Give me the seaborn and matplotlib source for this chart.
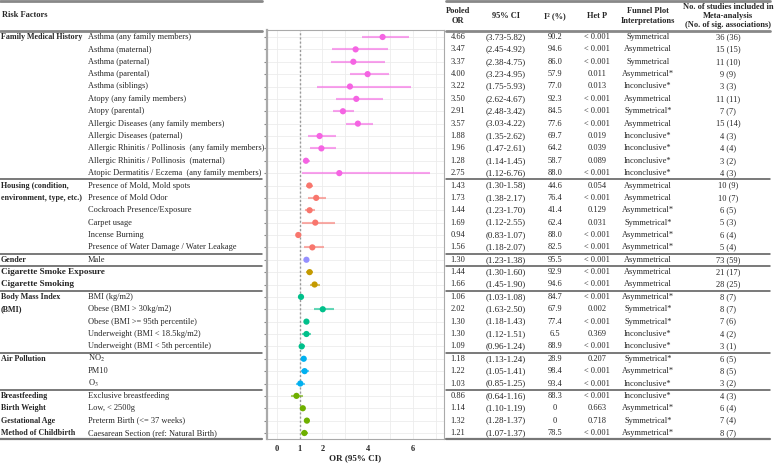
import matplotlib
matplotlib.use("Agg")
import matplotlib.pyplot as plt
import pandas as pd
import seaborn as sns

# ---- data ----
groups = ["Family Medical History"] * 12 + ["Housing"] * 6 + ["Gender"] + ["Cigarette"] * 2 \
    + ["BMI"] * 5 + ["Air Pollution"] * 3 + ["Early life"] * 4
factors = [
    "Asthma (any family members)", "Asthma (maternal)", "Asthma (paternal)", "Asthma (parental)",
    "Asthma (siblings)", "Atopy (any family members)", "Atopy (parental)",
    "Allergic Diseases (any family members)", "Allergic Diseases (paternal)",
    "Allergic Rhinitis / Pollinosis  (any family members)", "Allergic Rhinitis / Pollinosis  (maternal)",
    "Atopic Dermatitis / Eczema  (any family members)",
    "Presence of Mold, Mold spots", "Presence of Mold Odor", "Cockroach Presence/Exposure",
    "Carpet usage", "Incense Burning", "Presence of Water Damage / Water Leakage",
    "Male", "", "",
    "BMI (kg/m2)", "Obese (BMI > 30kg/m2)", "Obese (BMI >= 95th percentile)",
    "Underweight (BMI < 18.5kg/m2)", "Underweight (BMI < 5th percentile)",
    "NO$_2$", "PM10", "O$_3$",
    "Exclusive breastfeeding", "Low, < 2500g", "Preterm Birth (<= 37 weeks)",
    "Caesarean Section (ref: Natural Birth)",
]
or_vals = [4.66, 3.47, 3.37, 4.00, 3.22, 3.50, 2.91, 3.57, 1.88, 1.96, 1.28, 2.75,
           1.43, 1.73, 1.44, 1.69, 0.94, 1.56, 1.30, 1.44, 1.66,
           1.06, 2.02, 1.30, 1.30, 1.09, 1.18, 1.22, 1.03, 0.86, 1.14, 1.32, 1.21]
ci_lo = [3.73, 2.45, 2.38, 3.23, 1.75, 2.62, 2.48, 3.03, 1.35, 1.47, 1.14, 1.12,
         1.30, 1.38, 1.23, 1.12, 0.83, 1.18, 1.23, 1.30, 1.45,
         1.03, 1.63, 1.18, 1.12, 0.96, 1.13, 1.05, 0.85, 0.64, 1.10, 1.28, 1.07]
ci_hi = [5.82, 4.92, 4.75, 4.95, 5.93, 4.67, 3.42, 4.22, 2.62, 2.61, 1.45, 6.76,
         1.58, 2.17, 1.70, 2.55, 1.07, 2.07, 1.38, 1.60, 1.90,
         1.08, 2.50, 1.43, 1.51, 1.24, 1.24, 1.41, 1.25, 1.16, 1.19, 1.37, 1.37]
i2 = ["90.2", "94.6", "86.0", "57.9", "77.0", "92.3", "84.5", "77.6", "69.7", "64.2", "58.7", "88.0",
      "44.6", "76.4", "41.4", "62.4", "88.0", "82.5", "95.5", "92.9", "94.6",
      "84.7", "67.9", "77.4", "6.5", "88.9", "28.9", "98.4", "93.4", "88.3", "0", "0", "78.5"]
het_p = ["< 0.001", "< 0.001", "< 0.001", "0.011", "0.013", "< 0.001", "< 0.001", "< 0.001",
         "0.019", "0.039", "0.089", "< 0.001",
         "0.054", "< 0.001", "0.129", "0.031", "< 0.001", "< 0.001", "< 0.001", "< 0.001", "< 0.001",
         "< 0.001", "0.002", "< 0.001", "0.369", "< 0.001", "0.207", "< 0.001", "< 0.001",
         "< 0.001", "0.663", "0.718", "< 0.001"]
funnel = ["Symmetrical", "Asymmetrical", "Symmetrical", "Asymmetrical*", "Inconclusive*",
          "Asymmetrical", "Symmetrical*", "Asymmetrical", "Inconclusive*", "Inconclusive*",
          "Inconclusive*", "Inconclusive*",
          "Asymmetrical", "Asymmetrical", "Asymmetrical*", "Symmetrical*", "Asymmetrical*",
          "Asymmetrical*", "Asymmetrical", "Asymmetrical", "Asymmetrical",
          "Asymmetrical*", "Symmetrical*", "Symmetrical*", "Inconclusive*", "Inconclusive*",
          "Symmetrical*", "Asymmetrical*", "Inconclusive*",
          "Inconclusive*", "Asymmetrical*", "Symmetrical*", "Asymmetrical*"]
studies = ["36 (36)", "15 (15)", "11 (10)", "9 (9)", "3 (3)", "11 (11)", "7 (7)", "15 (14)",
           "4 (3)", "4 (4)", "3 (2)", "4 (3)",
           "10 (9)", "10 (7)", "6 (5)", "5 (3)", "6 (4)", "5 (4)", "73 (59)", "21 (17)", "28 (25)",
           "8 (7)", "8 (7)", "7 (6)", "4 (2)", "3 (1)", "6 (5)", "8 (5)", "3 (2)",
           "4 (3)", "6 (4)", "7 (4)", "8 (7)"]

cat_labels = [("Family Medical History", 0), ("Housing (condition,", 12),
              ("environment, type, etc.)", 13), ("Gender", 18),
              ("Cigarette Smoke Exposure", 19), ("Cigarette Smoking", 20),
              ("Body Mass Index", 21), ("(BMI)", 22), ("Air Pollution", 26),
              ("Breastfeeding", 29), ("Birth Weight", 30), ("Gestational Age", 31),
              ("Method of Childbirth", 32)]
section_breaks = [12, 18, 19, 21, 26, 29]

palette = {"Family Medical History": "#F564E3", "Housing": "#F8766D", "Gender": "#9590FF",
           "Cigarette": "#C49A00", "BMI": "#00C08B", "Air Pollution": "#00B0F0",
           "Early life": "#6FB000"}

df = pd.DataFrame({"group": groups, "factor": factors, "OR": or_vals,
                   "lo": ci_lo, "hi": ci_hi, "row": range(len(or_vals))})

# ---- figure ----
sns.set_style("white")
plt.rcParams["font.family"] = ["Liberation Serif", "DejaVu Serif"]
plt.rcParams["mathtext.fontset"] = "stix"

W, H = 777, 463
fig = plt.figure(figsize=(W / 100, H / 100), dpi=100)

row0, step = 37, 12.375
def ypix(i):
    return row0 + i * step

# overlay for table text and rules (pixel coords)
ov = fig.add_axes([0, 0, 1, 1])
ov.set_xlim(0, W)
ov.set_ylim(H, 0)
ov.axis("off")

fs = 6.0
ov.text(2, 15, "Risk Factors", fontsize=fs, fontweight="bold", va="center")
for lab, r in cat_labels:
    big = lab.startswith("Cigarette")
    ov.text(1, ypix(r), lab, fontsize=6.6 if big else 5.8, fontweight="bold", va="center")
for i, f in enumerate(factors):
    ov.text(88, ypix(i), f, fontsize=fs, va="center")

cols_x = [458, 506, 555, 597, 648, 728]
heads = ["Pooled\nOR", "95% CI", "I² (%)", "Het P", "Funnel Plot\nInterpretations",
         "No. of studies included in\nMeta-analysis\n(No. of sig. associations)"]
for x, h in zip(cols_x, heads):
    ov.text(x, 16, h, fontsize=fs, fontweight="bold", ha="center", va="center", linespacing=1.2)
for i in range(len(or_vals)):
    vals = ["%.2f" % or_vals[i], "(%.2f-%.2f)" % (ci_lo[i], ci_hi[i]), i2[i], het_p[i],
            funnel[i], studies[i]]
    for j, (x, v) in enumerate(zip(cols_x, vals)):
        ov.text(x, ypix(i), v, fontsize=6.5 if j == 1 else fs, ha="center", va="center")

rule_c = "#555555"
for x0, x1 in [(0, 262), (446, 770)]:
    ov.plot([x0, x1], [1, 1], color="#888888", lw=2)
    ov.plot([x0, x1], [31, 31], color="#888888", lw=2)
    ov.plot([x0, x1], [ypix(32) + 5.5, ypix(32) + 5.5], color="#777777", lw=1.6)
    for b in section_breaks:
        y = ypix(b - 0.5)
        ov.plot([x0, x1], [y, y], color=rule_c, lw=1.1)

# ---- forest plot ----
ax = fig.add_axes([267 / W, 1 - 439 / H, (444 - 267) / W, (439 - 30) / H])
ax.set_xlim(-0.44, 7.37)
ax.set_ylim(32 + 6 / step, -7 / step)
ax.set_xticks([1, 3, 5, 7], minor=True)
ax.set_yticks(df["row"])
ax.grid(True, which="both", axis="x", color="#ececec", lw=0.6)
ax.grid(True, which="major", axis="y", color="#ececec", lw=0.6)
ax.set_axisbelow(True)
ax.axvline(1, color="#999999", ls=(0, (1.5, 1.5)), lw=1, zorder=1)

for g, sub in df.groupby("group", sort=False):
    ax.hlines(sub["row"], sub["lo"], sub["hi"], color=palette[g], alpha=0.6, lw=1.5, zorder=2)
sns.scatterplot(data=df, x="OR", y="row", hue="group", palette=palette, s=20,
                edgecolor="none", legend=False, ax=ax, zorder=3)

ax.set_xticks([0, 1, 2, 4, 6], labels=["0", "1", "2", "4", "6"])
ax.tick_params(axis="x", length=0, labelsize=6, pad=4)
for t in ax.get_xticklabels():
    t.set_fontweight("bold")
ax.tick_params(axis="y", length=2, color="#888888", labelleft=False, left=True)
ax.set_ylabel("")
ax.set_xlabel("OR (95% CI)", fontsize=6.5, fontweight="bold", labelpad=1)
for s in ax.spines.values():
    s.set_color("#aaaaaa")
    s.set_linewidth(0.8)
ax.spines["left"].set_linewidth(1.6)

fig.savefig("out.png", dpi=100)
